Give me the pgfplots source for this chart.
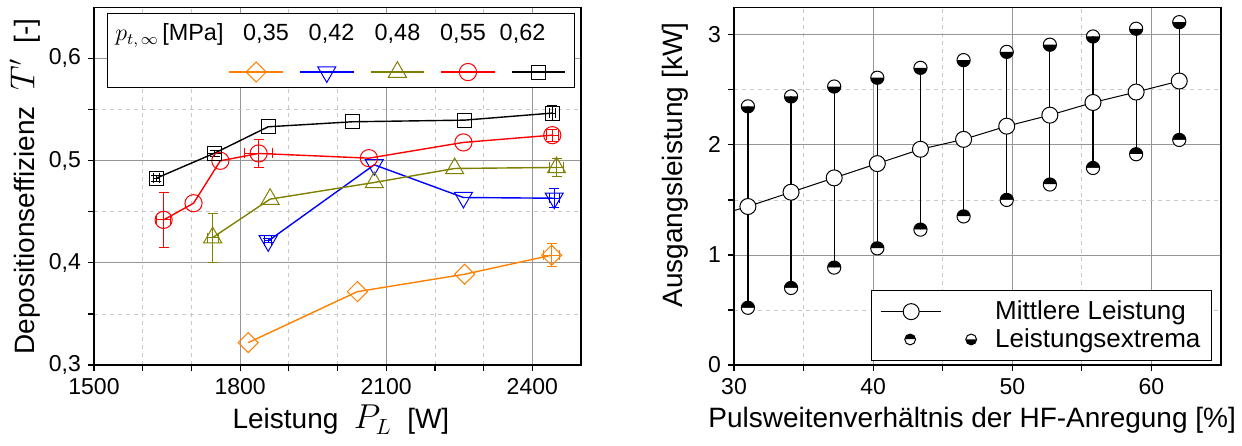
\documentclass[border=0pt]{standalone}
\usepackage{fontspec}
\setmainfont{Liberation Sans}
\usepackage{pgfplots}
\pgfplotsset{compat=1.18}
\usetikzlibrary{plotmarks}
\definecolor{cOrange}{RGB}{255,128,0}
\definecolor{cBlue}{RGB}{0,0,255}
\definecolor{cOlive}{RGB}{128,128,0}
\definecolor{cRed}{RGB}{255,0,0}
\definecolor{gridmaj}{RGB}{150,150,150}
\definecolor{gridmin}{RGB}{200,200,200}
\pgfplotsset{
  myaxis/.style={
    scale only axis, width=243.5pt, height=178.85pt,
    axis line style={line width=0.7pt},
    tick align=outside, xtick pos=bottom, ytick pos=left,
    major tick length=3pt, minor tick length=3pt,
    every tick/.style={black, line width=0.6pt},
    grid=both,
    major grid style={gridmaj, line width=0.4pt},
    minor grid style={gridmin, line width=0.4pt, dash pattern=on 2pt off 2pt},
    tick label style={font=\fontsize{11.5}{13}\selectfont},
    label style={font=\fontsize{14}{16}\selectfont},
    /pgf/number format/assume math mode=true,
  },
  eb/.style={forget plot, draw=none, mark=none,
    error bars/.cd, x dir=both, x explicit, y dir=both, y explicit,
    error bar style={draw=#1, solid, line width=0.5pt},
    error mark options={rotate=90, draw=#1, mark size=2.5pt, line width=0.5pt}},
}
\begin{document}
\begin{tikzpicture}
\path[use as bounding box] (0,0) rectangle (621pt,222.5pt);
%================ LEFT =================
\begin{axis}[myaxis, at={(47pt,40pt)}, anchor=south west,
  xmin=1500, xmax=2500, ymin=0.3, ymax=0.65,
  xtick={1500,1800,2100,2400}, minor xtick={1600,1700,1900,2000,2200,2300},
  ytick={0.3,0.4,0.5,0.6}, minor ytick={0.35,0.45,0.55},
  xticklabel style={/pgf/number format/1000 sep={}},
  yticklabel style={/pgf/number format/.cd, fixed, fixed zerofill, precision=1, use comma},
  xlabel={Leistung\ \ {\fontsize{16}{16}\selectfont$P_L$}\ \ [W]},
  ylabel={Depositionseffizienz\ \ {\fontsize{16}{16}\selectfont$T'$}\ \ [-]},
  xlabel style={at={(axis description cs:0.507,-0.154)}, anchor=center},
  ylabel style={at={(axis description cs:-0.1417,0.499)}, anchor=center},
  legend columns=5,
  legend style={at={(0.632,0.819)}, anchor=center, draw=none, fill=none,
    inner sep=0pt, outer sep=0pt, column sep=3.4pt, nodes={inner sep=0pt}},
  legend image code/.code={\draw[mark repeat=2,mark phase=2] plot coordinates {(0pt,0pt)(13.4pt,0pt)(26.8pt,0pt)};},
]
\draw[fill=white, line width=0.6pt] (rel axis cs:0.0273,0.7764) rectangle (rel axis cs:0.9862,0.9832);
\node[anchor=base west, inner sep=0pt, font=\fontsize{12}{14}\selectfont] at (rel axis cs:0.0431,0.9066) {$p_{t,\,\infty}$};
\node[anchor=base west, inner sep=0pt, font=\fontsize{11.7}{14}\selectfont] at (rel axis cs:0.1396,0.9066) {[MPa]};
\node[anchor=base, font=\fontsize{11.7}{14}\selectfont] at (rel axis cs:0.3532,0.9066) {0,35};
\node[anchor=base, font=\fontsize{11.7}{14}\selectfont] at (rel axis cs:0.4877,0.9066) {0,42};
\node[anchor=base, font=\fontsize{11.7}{14}\selectfont] at (rel axis cs:0.6232,0.9066) {0,48};
\node[anchor=base, font=\fontsize{11.7}{14}\selectfont] at (rel axis cs:0.7577,0.9066) {0,55};
\node[anchor=base, font=\fontsize{11.7}{14}\selectfont] at (rel axis cs:0.8799,0.9066) {0,62};

\addplot[cOrange, line width=0.7pt, mark=square, mark size=3.55pt,
  mark options={rotate=45, fill=white, line width=0.5pt}]
  coordinates {(1816.8,0.3219) (2040.9,0.3718) (2261,0.3888) (2439.5,0.4074)};
\addlegendentry{\mbox{}}
\addplot[cBlue, line width=0.7pt, mark=triangle, mark size=5.2pt,
  mark options={rotate=180, fill=white, line width=0.5pt}]
  coordinates {(1857.7,0.4214) (2075.5,0.4959) (2258.6,0.4639) (2445,0.4632)};
\addlegendentry{\mbox{}}
\addplot[cOlive, line width=0.7pt, mark=triangle, mark size=5.2pt,
  mark options={fill=white, line width=0.5pt}]
  coordinates {(1743.7,0.4247) (1861.6,0.4623) (2075.5,0.4786) (2240.6,0.4923) (2449.7,0.4933)};
\addlegendentry{\mbox{}}
\addplot[cRed, line width=0.7pt, mark=o, mark size=4.3pt,
  mark options={fill=white, line width=0.5pt}]
  coordinates {(1643,0.4420) (1704.4,0.4583) (1759.4,0.4998) (1838,0.5070) (2064.5,0.5024) (2258.6,0.5178) (2441,0.5249)};
\addlegendentry{\mbox{}}
\addplot[black, line width=0.7pt, mark=square, mark size=3.5pt,
  mark options={fill=white, line width=0.5pt}]
  coordinates {(1628,0.4828) (1747.6,0.5073) (1857.7,0.5331) (2030.7,0.5380) (2261,0.5396) (2441,0.5465)};
\addlegendentry{\mbox{}}
% error bars
\addplot[eb=cOrange] coordinates {(2439.5,0.4074) +- (16,0.011)};
\addplot[eb=cBlue] coordinates {(1857.7,0.4214) +- (7,0.002) (2445,0.4632) +- (10,0.0095)};
\addplot[eb=cOlive] coordinates {(1743.7,0.4247) +- (11,0.024) (2449.7,0.4933) +- (14,0.0085)};
\addplot[eb=cRed] coordinates {(1643,0.4420) +- (14,0.027) (1838,0.5070) +- (29,0.0136) (2441,0.5249) +- (12,0.006)};
\addplot[eb=black] coordinates {(1628,0.4828) +- (6,0.003) (1747.6,0.5073) +- (14,0.003) (2441,0.5465) +- (6,0.0075)};
\end{axis}
%================ RIGHT =================
\begin{axis}[myaxis, at={(367pt,40pt)}, anchor=south west,
  xmin=30, xmax=65, ymin=0, ymax=3.25,
  xtick={30,40,50,60}, minor xtick={35,45,55},
  ytick={0,1,2,3}, minor ytick={0.5,1.5,2.5},
  xlabel={Pulsweitenverhältnis der HF-Anregung [\%]},
  ylabel={Ausgangsleistung [kW]},
  xlabel style={at={(axis description cs:0.489,-0.154)}, anchor=center},
  ylabel style={at={(axis description cs:-0.121,0.559)}, anchor=center},
  legend cell align=left,
  legend style={at={(0.9815,0.0112)}, anchor=south east, draw=black, line width=0.6pt,
    fill=white, font=\fontsize{13}{15}\selectfont, inner xsep=4.5pt, inner ysep=4pt,
    row sep=1pt, column sep=8pt, nodes={inner sep=1pt}},
]
% extrema markers: max = upper half black, min = lower half black
\addplot[forget plot, only marks, mark=halfcircle*, mark size=3.3pt,
  mark options={fill=white, draw=black, mark color=black, line width=0.5pt}]
  coordinates {(31,2.35) (34.1,2.44) (37.2,2.53) (40.3,2.61) (43.4,2.70) (46.5,2.77) (49.6,2.845) (52.7,2.91) (55.8,2.985) (58.9,3.055) (62,3.115)};
\addplot[forget plot, only marks, mark=halfcircle*, mark size=3.3pt,
  mark options={fill=black, draw=black, mark color=white, line width=0.5pt}]
  coordinates {(31,0.52) (34.1,0.70) (37.2,0.885) (40.3,1.06) (43.4,1.23) (46.5,1.35) (49.6,1.50) (52.7,1.64) (55.8,1.79) (58.9,1.915) (62,2.045)};
% vertical range lines
\addplot[forget plot, draw=none, mark=none,
  error bars/.cd, y dir=both, y explicit, error mark=none,
  error bar style={draw=black, solid, line width=0.6pt}]
  coordinates {(31,0.52) += (0,1.83) (34.1,0.70) += (0,1.74) (37.2,0.885) += (0,1.645)
  (40.3,1.06) += (0,1.55) (43.4,1.23) += (0,1.47) (46.5,1.35) += (0,1.42)
  (49.6,1.50) += (0,1.345) (52.7,1.64) += (0,1.27) (55.8,1.79) += (0,1.195)
  (58.9,1.915) += (0,1.14) (62,2.045) += (0,1.07)};
% mean line
\addplot[forget plot, black, line width=0.5pt]
  coordinates {(30,1.403) (31,1.44) (34.1,1.57) (37.2,1.70) (40.3,1.83) (43.4,1.96) (46.5,2.05) (49.6,2.17) (52.7,2.27) (55.8,2.385) (58.9,2.48) (62,2.58)};
\addplot[only marks, mark=*, mark size=4pt, mark options={fill=white, draw=black, line width=0.5pt},
  legend image code/.code={\path[draw=none, fill=none] (0pt,-5pt) rectangle (48pt,5pt);
    \draw[black, line width=0.5pt] (0pt,0pt) -- (30pt,0pt);
    \draw plot[mark=*, mark size=4pt, mark options={fill=white, draw=black, line width=0.5pt}] coordinates {(15pt,0pt)};}]
  coordinates {(31,1.44) (34.1,1.57) (37.2,1.70) (40.3,1.83) (43.4,1.96) (46.5,2.05) (49.6,2.17) (52.7,2.27) (55.8,2.385) (58.9,2.48) (62,2.58)};
\addlegendentry{Mittlere Leistung}
\addlegendimage{legend image code/.code={\path[draw=none, fill=none] (0pt,-5pt) rectangle (48pt,5pt);
    \draw plot[mark=halfcircle*, mark size=2.7pt, mark options={fill=black, draw=black, mark color=white, line width=0.5pt}] coordinates {(14.5pt,0pt)};
    \draw plot[mark=halfcircle*, mark size=2.7pt, mark options={fill=white, draw=black, mark color=black, line width=0.5pt}] coordinates {(45pt,0pt)};}}
\addlegendentry{Leistungsextrema}
\end{axis}
\end{tikzpicture}
\end{document}
